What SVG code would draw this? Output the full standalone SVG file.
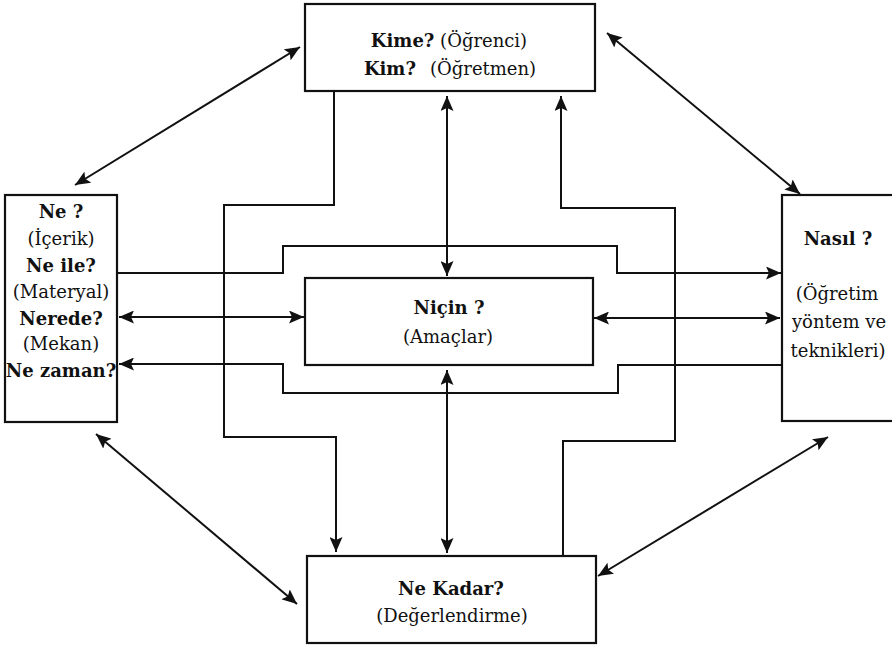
<svg xmlns="http://www.w3.org/2000/svg" width="892" height="647" viewBox="0 0 892 647">
<style>
  .box { fill: #fff; stroke: #111; stroke-width: 2.2; }
  .con { fill: none; stroke: #111; stroke-width: 2; }
  text { font-family: "DejaVu Serif", "Liberation Serif", serif; font-size: 18px; fill: #111; text-anchor: middle; }
  .b { font-weight: bold; }
</style>
<defs>
  <marker id="ah" markerUnits="userSpaceOnUse" markerWidth="16" markerHeight="13" refX="15" refY="6.5" orient="auto-start-reverse" viewBox="0 0 16 13">
    <path d="M0,0 L15,6.5 L0,13 L3,6.5 z" fill="#111"/>
  </marker>
</defs>
<rect width="892" height="647" fill="#fff"/>
<g id="connectors">
  <line class="con" x1="75" y1="185" x2="300" y2="47" marker-start="url(#ah)" marker-end="url(#ah)"/>
  <line class="con" x1="607" y1="33" x2="800" y2="194" marker-start="url(#ah)" marker-end="url(#ah)"/>
  <line class="con" x1="96" y1="434" x2="297" y2="604" marker-start="url(#ah)" marker-end="url(#ah)"/>
  <line class="con" x1="598" y1="576" x2="828" y2="437" marker-start="url(#ah)" marker-end="url(#ah)"/>
  <line class="con" x1="447" y1="96" x2="447" y2="276" marker-start="url(#ah)" marker-end="url(#ah)"/>
  <line class="con" x1="447" y1="370" x2="447" y2="553" marker-start="url(#ah)" marker-end="url(#ah)"/>
  <path class="con" d="M334,91 V205 H224 V437 H336 V552" marker-end="url(#ah)"/>
  <path class="con" d="M563,556 V441 H675 V208 H561 V96" marker-end="url(#ah)"/>
  <path class="con" d="M118,273 H283 V246 H617 V273 H781" marker-end="url(#ah)"/>
  <line class="con" x1="119" y1="317" x2="304" y2="317" marker-start="url(#ah)" marker-end="url(#ah)"/>
  <line class="con" x1="594" y1="318" x2="780" y2="318" marker-start="url(#ah)" marker-end="url(#ah)"/>
  <path class="con" d="M782,365 H618 V393 H283 V364 H119" marker-end="url(#ah)"/>
</g>
<g id="kime">
  <rect class="box" x="305" y="4" width="290" height="87"/>
  <text x="449" y="47"><tspan class="b">Kime?</tspan> (Öğrenci)</text>
  <text x="450" y="75"><tspan class="b">Kim?</tspan><tspan dx="14">(Öğretmen)</tspan></text>
</g>
<g id="ne">
  <rect class="box" x="5" y="195" width="112" height="227"/>
  <text class="b" x="61" y="218">Ne ?</text>
  <text x="61" y="245">(İçerik)</text>
  <text class="b" x="61" y="272">Ne ile?</text>
  <text x="61" y="298">(Materyal)</text>
  <text class="b" x="61" y="325">Nerede?</text>
  <text x="61" y="350">(Mekan)</text>
  <text class="b" x="61" y="377">Ne zaman?</text>
</g>
<g id="nasil">
  <rect class="box" x="782" y="195" width="114" height="226"/>
  <text class="b" x="838" y="245">Nasıl ?</text>
  <text x="837" y="300">(Öğretim</text>
  <text x="839" y="328">yöntem ve</text>
  <text x="838" y="357">teknikleri)</text>
</g>
<g id="nicin">
  <rect class="box" x="305" y="278" width="288" height="87"/>
  <text class="b" x="449" y="314">Niçin ?</text>
  <text x="448" y="343">(Amaçlar)</text>
</g>
<g id="nekadar">
  <rect class="box" x="307" y="556" width="289" height="87"/>
  <text class="b" x="451" y="595">Ne Kadar?</text>
  <text x="452" y="622">(Değerlendirme)</text>
</g>
</svg>
